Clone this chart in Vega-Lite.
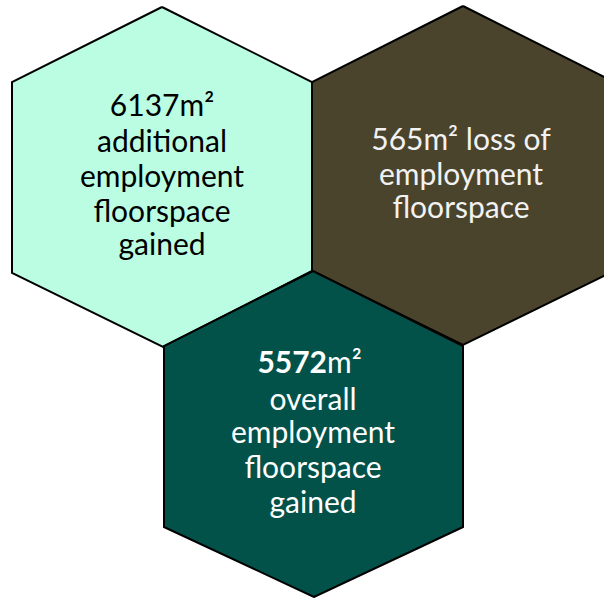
{
  "$schema": "https://vega.github.io/schema/vega-lite/v6.json",
  "width": 604,
  "height": 598,
  "padding": 0,
  "autosize": "none",
  "background": "white",
  "config": {"view": {"stroke": null}},
  "datasets": {
    "hexes": [
      {"hex": "gained", "i": 0, "x": 162, "y": 7},
      {"hex": "gained", "i": 1, "x": 312, "y": 82},
      {"hex": "gained", "i": 2, "x": 312, "y": 271},
      {"hex": "gained", "i": 3, "x": 163, "y": 347},
      {"hex": "gained", "i": 4, "x": 12, "y": 273},
      {"hex": "gained", "i": 5, "x": 12, "y": 82},
      {"hex": "gained", "i": 6, "x": 162, "y": 7},
      {"hex": "loss", "i": 0, "x": 463, "y": 6},
      {"hex": "loss", "i": 1, "x": 614, "y": 82},
      {"hex": "loss", "i": 2, "x": 614, "y": 271},
      {"hex": "loss", "i": 3, "x": 463, "y": 345},
      {"hex": "loss", "i": 4, "x": 312, "y": 271},
      {"hex": "loss", "i": 5, "x": 312, "y": 82},
      {"hex": "loss", "i": 6, "x": 463, "y": 6},
      {"hex": "overall", "i": 0, "x": 313, "y": 271},
      {"hex": "overall", "i": 1, "x": 463, "y": 346},
      {"hex": "overall", "i": 2, "x": 463, "y": 527},
      {"hex": "overall", "i": 3, "x": 314, "y": 597},
      {"hex": "overall", "i": 4, "x": 164, "y": 527},
      {"hex": "overall", "i": 5, "x": 164, "y": 346},
      {"hex": "overall", "i": 6, "x": 313, "y": 271}
    ],
    "labels": [
      {"hex": "gained", "x": 162, "y": 116, "text": "6137m²"},
      {"hex": "gained", "x": 162, "y": 152, "text": "additional"},
      {"hex": "gained", "x": 162, "y": 187, "text": "employment"},
      {"hex": "gained", "x": 162, "y": 222, "text": "floorspace"},
      {"hex": "gained", "x": 162, "y": 255, "text": "gained"},
      {"hex": "loss", "x": 461, "y": 150, "text": "565m² loss of"},
      {"hex": "loss", "x": 461, "y": 185, "text": "employment"},
      {"hex": "loss", "x": 461, "y": 218, "text": "floorspace"},
      {"hex": "overall", "x": 313, "y": 410, "text": "overall"},
      {"hex": "overall", "x": 313, "y": 443, "text": "employment"},
      {"hex": "overall", "x": 313, "y": 478, "text": "floorspace"},
      {"hex": "overall", "x": 313, "y": 513, "text": "gained"}
    ],
    "boldnum": [
      {"hex": "overall", "x": 327, "y": 373, "text": "5572"}
    ],
    "unit": [
      {"hex": "overall", "x": 327, "y": 373, "text": "m²"}
    ]
  },
  "layer": [
    {
      "data": {"name": "hexes"},
      "mark": {"type": "line", "stroke": "black", "strokeWidth": 2, "clip": true, "strokeJoin": "miter"},
      "encoding": {
        "x": {"field": "x", "type": "quantitative", "scale": {"domain": [0, 604], "nice": false, "zero": false}, "axis": null},
        "y": {"field": "y", "type": "quantitative", "scale": {"domain": [0, 598], "nice": false, "zero": false, "reverse": true}, "axis": null},
        "order": {"field": "i", "type": "quantitative"},
        "detail": {"field": "hex", "type": "nominal"},
        "fill": {"field": "hex", "type": "nominal", "scale": {"domain": ["gained", "loss", "overall"], "range": ["#bbfde2", "#4a442d", "#02524a"]}, "legend": null}
      }
    },
    {
      "data": {"name": "labels"},
      "mark": {"type": "text", "font": "Lato", "fontSize": 30, "align": "center", "baseline": "alphabetic"},
      "encoding": {
        "x": {"field": "x", "type": "quantitative"},
        "y": {"field": "y", "type": "quantitative"},
        "text": {"field": "text"},
        "color": {"field": "hex", "type": "nominal", "scale": {"domain": ["gained", "loss", "overall"], "range": ["#000000", "#f2f2f2", "#ffffff"]}, "legend": null}
      }
    },
    {
      "data": {"name": "boldnum"},
      "mark": {"type": "text", "font": "Lato", "fontSize": 30, "fontWeight": "bold", "align": "right", "baseline": "alphabetic", "color": "#ffffff"},
      "encoding": {
        "x": {"field": "x", "type": "quantitative"},
        "y": {"field": "y", "type": "quantitative"},
        "text": {"field": "text"}
      }
    },
    {
      "data": {"name": "unit"},
      "mark": {"type": "text", "font": "Lato", "fontSize": 30, "align": "left", "baseline": "alphabetic", "color": "#ffffff"},
      "encoding": {
        "x": {"field": "x", "type": "quantitative"},
        "y": {"field": "y", "type": "quantitative"},
        "text": {"field": "text"}
      }
    }
  ]
}
